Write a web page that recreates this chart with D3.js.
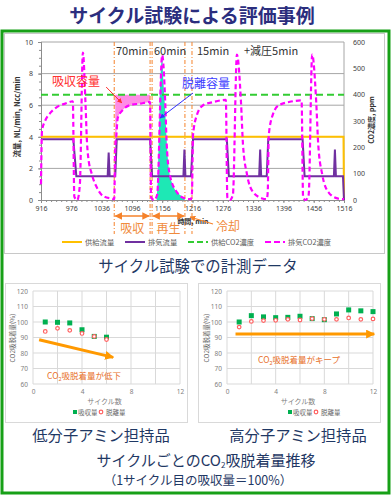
<!DOCTYPE html>
<html>
<head>
<meta charset="utf-8">
<script src="https://cdn.jsdelivr.net/npm/d3@7"></script>
<style>
body { margin: 0; background: #fff; }
svg { display: block; font-family: "Noto Sans CJK JP", "Noto Sans", sans-serif; }
</style>
</head>
<body>
<svg id="chart" width="392" height="497"></svg>
<script>
// ---- top chart data (time in min) ----
var timeTicks = [916, 976, 1036, 1096, 1156, 1216, 1276, 1336, 1396, 1456, 1516];
var flowTicks = [0, 2, 4, 6, 8, 10];
var ppmTicks = [0, 100, 200, 300, 400, 500, 600];

// 供給流量 (NL/min)
var supplyFlow = [[916, 4], [1515, 4], [1516, 0]];
// 排気流量 (NL/min)
var exhaustFlow = [
  [916, 3.85], [980, 3.85], [986, 1.5], [1048, 1.5], [1050, 3.0], [1052, 1.5], [1063, 1.5], [1066, 3.85],
  [1132, 3.85], [1136, 1.5], [1198, 1.5], [1200, 3.2], [1202, 1.5], [1213, 1.5], [1217, 3.85],
  [1284, 3.85], [1288, 1.5], [1348, 1.5], [1350, 3.2], [1352, 1.5], [1363, 1.5], [1366, 3.85],
  [1434, 3.85], [1438, 1.5], [1496, 1.5], [1498, 3.2], [1500, 1.5], [1514, 1.5], [1516, 0]
];
// 供給CO2濃度 (ppm)
var supplyCO2 = [[916, 400], [1516, 400]];
// 排気CO2濃度 (ppm)
var exhaustCO2 = [
  [916, 60], [918, 264], [924, 300], [934, 330], [944, 348], [954, 360], [964, 366], [979, 375],
  [982, 12], [988, 0], [993, 60], [999, 560], [1004, 372], [1007, 222], [1009, 171], [1017, 96],
  [1027, 46], [1039, 15], [1057, 5], [1061, 3],
  [1063, 200], [1065, 240], [1068, 312], [1078, 342], [1092, 360], [1112, 366], [1132, 372],
  [1134, 10], [1140, 0], [1146, 20], [1156, 550], [1162, 372], [1165, 210], [1171, 96],
  [1185, 30], [1201, 6], [1213, 3],
  [1215, 30], [1217, 246], [1225, 324], [1237, 360], [1257, 372], [1282, 380],
  [1285, 10], [1290, 0], [1296, 20], [1304, 552], [1312, 372], [1316, 210], [1324, 96],
  [1336, 30], [1354, 6], [1363, 3],
  [1365, 30], [1367, 246], [1375, 324], [1387, 360], [1407, 372], [1432, 378],
  [1435, 10], [1440, 0], [1446, 20], [1453, 552], [1461, 372], [1465, 210], [1473, 96],
  [1485, 30], [1503, 6], [1516, 3]
];
// 脱離容量 (ppm)
var desorbArea = [
  [1145, 0], [1148, 120], [1151, 372], [1156, 540], [1158, 462], [1162, 336], [1165, 222],
  [1169, 120], [1177, 57], [1187, 27], [1199, 6], [1201, 0]
];
var absorbRange = [1063, 1132];
var phaseLines = [1061, 1132, 1136, 1201, 1215];
var phaseTexts = ["70min", "60min", "15min", "+減圧5min"];
var legendNames = ["供給流量", "排気流量", "供給CO2濃度", "排気CO2濃度"];

// ---- cycle charts data ----
var cycleTicks = [0, 4, 8, 12];
var pctTicks = [60, 70, 80, 90, 100, 110, 120];
var lowCycles = [1, 2, 3, 4, 5, 6];
var lowAbsorb = [100, 99.8, 99.4, 95.0, 90.7, 90.2];
var lowDesorb = [93.9, 95.9, 94.6, 92.6, 90.7, 88.7];
var lowTrend = [[0.5, 88.5], [6.55, 77.2]];
var highCycles = [1, 2, 3, 4, 5, 6, 7, 8, 9, 10, 11, 12];
var highAbsorb = [100, 104.1, 103.3, 102.8, 103.0, 103.7, 102.2, 101.5, 105.2, 107.8, 107.2, 106.7];
var highDesorb = [96.7, 100.4, 100.9, 101.1, 101.7, 101.3, 102.2, 101.7, 101.7, 102.6, 101.7, 102.0];
var highTrend = [[0.7, 92.2], [12.1, 92.2]];

var svg = d3.select("#chart");
var navy = "#1f3864";
var orange = "#f08a3c";

// markers
var defs = svg.append("defs");
function marker(id, color, size) {
  defs.append("marker").attr("id", id).attr("viewBox", "0 0 10 10")
    .attr("refX", 9).attr("refY", 5).attr("markerWidth", size).attr("markerHeight", size)
    .attr("orient", "auto-start-reverse")
    .append("path").attr("d", "M0,0L10,5L0,10z").attr("fill", color);
}
marker("headRed", "#ff3030", 5);
marker("headBlue", "#3030ff", 5);
marker("headOrange", "#f5822a", 5);
marker("headTrend", "#ff9900", 3);

// title
svg.append("text").attr("x", 192).attr("y", 23).attr("text-anchor", "middle")
  .attr("font-size", 19).attr("font-weight", "bold").attr("fill", "#2b2e7e")
  .text("サイクル試験による評価事例");

// green frame
svg.append("rect").attr("x", 2).attr("y", 31).attr("width", 387).attr("height", 462)
  .attr("fill", "none").attr("stroke", "#17a017").attr("stroke-width", 3);

// top panel frame
svg.append("rect").attr("x", 4.5).attr("y", 33.5).attr("width", 380).attr("height", 220)
  .attr("fill", "none").attr("stroke", "#c8c8c8");

var x = d3.scaleLinear().domain([916, 1516]).range([41, 344]);
var yL = d3.scaleLinear().domain([0, 10]).range([200, 42]);
var yR = d3.scaleLinear().domain([0, 600]).range([200, 42]);

var topG = svg.append("g");

// gridlines
topG.selectAll(".grid").data(flowTicks.slice(1)).join("line")
  .attr("x1", 41).attr("x2", 344).attr("y1", d => yL(d)).attr("y2", d => yL(d))
  .attr("stroke", "#a6a6a6").attr("stroke-width", 1);
topG.append("line").attr("x1", 344).attr("x2", 344).attr("y1", 42).attr("y2", 200)
  .attr("stroke", "#a6a6a6");

// pink absorption fill
var absorbPts = exhaustCO2.filter(d => d[0] >= absorbRange[0] && d[0] <= absorbRange[1]);
topG.append("path").datum(absorbPts)
  .attr("d", d3.area().x(d => x(d[0])).y0(yR(400)).y1(d => yR(d[1])).curve(d3.curveMonotoneX))
  .attr("fill", "#ff8ce6");

// teal desorption fill
topG.append("path").datum(desorbArea)
  .attr("d", d3.area().x(d => x(d[0])).y0(yR(0)).y1(d => yR(d[1])).curve(d3.curveMonotoneX))
  .attr("fill", "#1ee8b5");

// phase lines
topG.selectAll(".phase").data(phaseLines).join("line")
  .attr("x1", d => x(d)).attr("x2", d => x(d)).attr("y1", 42).attr("y2", 234)
  .attr("stroke", "#f5822a").attr("stroke-width", 1).attr("stroke-dasharray", "4,2,1,2");

// axes
var axL = topG.append("g").attr("transform", "translate(41,0)")
  .call(d3.axisLeft(yL).tickValues(flowTicks).tickSize(3).tickPadding(5));
var axLm = topG.append("g").attr("transform", "translate(41,0)")
  .call(d3.axisLeft(yL).tickValues(d3.range(0, 10.01, 0.5)).tickSize(2).tickFormat(""));
var axR = topG.append("g").attr("transform", "translate(344,0)")
  .call(d3.axisRight(yR).tickValues(ppmTicks).tickSize(0).tickPadding(9));
var axB = topG.append("g").attr("transform", "translate(0,200)")
  .call(d3.axisBottom(x).tickValues(timeTicks).tickFormat(d3.format("d")).tickSize(3).tickPadding(3));
var axBm = topG.append("g").attr("transform", "translate(0,200)")
  .call(d3.axisBottom(x).tickValues(d3.range(916, 1517, 10)).tickSize(2).tickFormat(""));
[axL, axLm, axR, axB, axBm].forEach(function (a) {
  a.select(".domain").attr("stroke", "#8c8c8c");
  a.selectAll("line").attr("stroke", "#8c8c8c");
  a.selectAll("text").attr("font-size", 7).attr("fill", "#404040")
    .attr("font-family", '"Noto Sans", sans-serif');
});
axR.select(".domain").remove();

// series
var lineL = d3.line().x(d => x(d[0])).y(d => yL(d[1]));
var lineR = d3.line().x(d => x(d[0])).y(d => yR(d[1]));
topG.append("path").datum(supplyFlow).attr("d", lineL)
  .attr("fill", "none").attr("stroke", "#ffc000").attr("stroke-width", 2);
topG.append("path").datum(exhaustFlow).attr("d", lineL)
  .attr("fill", "none").attr("stroke", "#7030a0").attr("stroke-width", 2);
topG.append("path").datum(supplyCO2).attr("d", lineR)
  .attr("fill", "none").attr("stroke", "#33cc33").attr("stroke-width", 2).attr("stroke-dasharray", "7,4");
topG.append("path").datum(exhaustCO2).attr("d", lineR.curve(d3.curveMonotoneX))
  .attr("fill", "none").attr("stroke", "#ff00ff").attr("stroke-width", 2.2).attr("stroke-dasharray", "5,3");

// axis titles
topG.append("text").attr("transform", "translate(20,117) rotate(-90)").attr("text-anchor", "middle")
  .attr("font-size", 7.5).attr("font-weight", "bold").attr("fill", "#333").text("流量, NL/min, Ncc/min");
topG.append("text").attr("transform", "translate(374,120) rotate(-90)").attr("text-anchor", "middle")
  .attr("font-size", 7).attr("font-weight", "bold").attr("fill", "#333").text("CO2濃度, ppm");
topG.append("text").attr("x", 193).attr("y", 224).attr("text-anchor", "middle")
  .attr("font-size", 7).attr("font-weight", "bold").attr("fill", "#333").text("時間, min");

// phase labels at top
var phaseX = [116, 154, 197, 244];
phaseTexts.forEach(function (t, i) {
  topG.append("text").attr("x", phaseX[i]).attr("y", 55).attr("font-size", 11)
    .attr("fill", "#333").text(t);
});

// annotations
topG.append("text").attr("x", 52).attr("y", 86).attr("font-size", 12).attr("fill", "#ff3030").text("吸収容量");
topG.append("line").attr("x1", x(1045)).attr("y1", yL(7.15)).attr("x2", x(1076)).attr("y2", yL(6.14))
  .attr("stroke", "#ff3030").attr("stroke-width", 1).attr("marker-end", "url(#headRed)");
topG.append("text").attr("x", 182).attr("y", 88).attr("font-size", 12).attr("fill", "#3b3bff").text("脱離容量");
topG.append("line").attr("x1", x(1217)).attr("y1", yL(6.77)).attr("x2", x(1152)).attr("y2", yL(5.19))
  .attr("stroke", "#3030ff").attr("stroke-width", 1).attr("marker-end", "url(#headBlue)");

// phase arrows at bottom
[[phaseLines[0], phaseLines[1]], [phaseLines[2], phaseLines[3]]].forEach(function (p) {
  topG.append("line").attr("x1", x(p[0]) + 1).attr("x2", x(p[1]) - 1).attr("y1", 216).attr("y2", 216)
    .attr("stroke", "#f5822a").attr("stroke-width", 1.5)
    .attr("marker-start", "url(#headOrange)").attr("marker-end", "url(#headOrange)");
});
topG.append("line").attr("x1", 213).attr("y1", 224).attr("x2", x(phaseLines[4]) - 2).attr("y2", 217)
  .attr("stroke", "#f5822a").attr("stroke-width", 1.2).attr("marker-end", "url(#headOrange)");
topG.append("text").attr("x", (x(phaseLines[0]) + x(phaseLines[1])) / 2).attr("y", 233)
  .attr("text-anchor", "middle").attr("font-size", 12).attr("fill", orange).text("吸収");
topG.append("text").attr("x", (x(phaseLines[2]) + x(phaseLines[3])) / 2).attr("y", 233)
  .attr("text-anchor", "middle").attr("font-size", 12).attr("fill", orange).text("再生");
topG.append("text").attr("x", 216).attr("y", 231).attr("font-size", 12).attr("fill", orange).text("冷却");

// legend
var legendItems = [
  { x: 62, color: "#ffc000", dash: null },
  { x: 125, color: "#7030a0", dash: null },
  { x: 188, color: "#33cc33", dash: "6,3" },
  { x: 265, color: "#ff00ff", dash: "6,3" }
];
legendItems.forEach(function (it, i) {
  topG.append("line").attr("x1", it.x).attr("x2", it.x + 20).attr("y1", 242).attr("y2", 242)
    .attr("stroke", it.color).attr("stroke-width", 2).attr("stroke-dasharray", it.dash);
  topG.append("text").attr("x", it.x + 23).attr("y", 244.5).attr("font-size", 7.3)
    .attr("fill", "#595959").text(legendNames[i]);
});

svg.append("text").attr("x", 198).attr("y", 272).attr("text-anchor", "middle")
  .attr("font-size", 15.4).attr("fill", navy).text("サイクル試験での計測データ");

// ---- cycle charts ----
function cycleChart(box, x0, x1, cycles, absorb, desorb, trend, noteX, noteY, note, legX) {
  var g = svg.append("g");
  g.append("rect").attr("x", box).attr("y", 283.5).attr("width", 182).attr("height", 139)
    .attr("fill", "none").attr("stroke", "#d9d9d9");
  var cx = d3.scaleLinear().domain([0, 12]).range([x0, x1]);
  var cy = d3.scaleLinear().domain([60, 120]).range([384, 291]);

  g.selectAll(".hg").data(pctTicks).join("line")
    .attr("x1", x0).attr("x2", x1).attr("y1", d => cy(d)).attr("y2", d => cy(d))
    .attr("stroke", "#d9d9d9");
  g.selectAll(".vg").data(d3.range(0, 13, 2)).join("line")
    .attr("x1", d => cx(d)).attr("x2", d => cx(d)).attr("y1", 291).attr("y2", 384)
    .attr("stroke", "#d9d9d9");

  var ay = g.append("g").attr("transform", "translate(" + x0 + ",0)")
    .call(d3.axisLeft(cy).tickValues(pctTicks).tickSize(0).tickPadding(5));
  var ax = g.append("g").attr("transform", "translate(0,384)")
    .call(d3.axisBottom(cx).tickValues(cycleTicks).tickSize(0).tickPadding(5));
  [ay, ax].forEach(function (a) {
    a.select(".domain").remove();
    a.selectAll("text").attr("font-size", 6.5).attr("fill", "#808080")
      .attr("font-family", '"Noto Sans", sans-serif');
  });

  g.append("text").attr("transform", "translate(" + (x0 - 18) + ",338) rotate(-90)")
    .attr("text-anchor", "middle").attr("font-size", 6.5).attr("fill", "#666").text("CO2吸脱着量(%)");
  g.append("text").attr("x", (x0 + x1) / 2 - 2).attr("y", 404).attr("text-anchor", "middle")
    .attr("font-size", 7).attr("fill", "#808080").text("サイクル数");

  g.selectAll(".abs").data(absorb).join("rect")
    .attr("x", (d, i) => cx(cycles[i]) - 2.5).attr("y", d => cy(d) - 2.5)
    .attr("width", 5).attr("height", 5).attr("fill", "#00b050");
  g.selectAll(".des").data(desorb).join("circle")
    .attr("cx", (d, i) => cx(cycles[i])).attr("cy", d => cy(d)).attr("r", 1.8)
    .attr("fill", "#fff").attr("stroke", "#ff6060").attr("stroke-width", 1.2);

  g.append("line").attr("x1", cx(trend[0][0])).attr("y1", cy(trend[0][1]))
    .attr("x2", cx(trend[1][0])).attr("y2", cy(trend[1][1]))
    .attr("stroke", "#ff9900").attr("stroke-width", 3).attr("marker-end", "url(#headTrend)");

  var t = g.append("text").attr("x", noteX).attr("y", noteY).attr("font-size", 8.5).attr("fill", "#e8702a");
  t.append("tspan").text("CO");
  t.append("tspan").attr("font-size", 5.5).attr("dy", 2).text("2");
  t.append("tspan").attr("dy", -2).text(note);

  g.append("rect").attr("x", legX - 2).attr("y", 410).attr("width", 4).attr("height", 4).attr("fill", "#00b050");
  g.append("text").attr("x", legX + 3).attr("y", 414.5).attr("font-size", 6.5).attr("fill", "#666").text("吸収量");
  g.append("circle").attr("cx", legX + 26).attr("cy", 412).attr("r", 1.8)
    .attr("fill", "#fff").attr("stroke", "#ff6060").attr("stroke-width", 1.2);
  g.append("text").attr("x", legX + 31).attr("y", 414.5).attr("font-size", 6.5).attr("fill", "#666").text("脱離量");
}
cycleChart(5.5, 33, 180, lowCycles, lowAbsorb, lowDesorb, lowTrend, 47, 379, "吸脱着量が低下", 75);
cycleChart(198.5, 227, 373, highCycles, highAbsorb, highDesorb, highTrend, 258, 363, "吸脱着量がキープ", 290);

// bottom captions
svg.append("text").attr("x", 101).attr("y", 441).attr("text-anchor", "middle")
  .attr("font-size", 15.3).attr("fill", navy).text("低分子アミン担持品");
svg.append("text").attr("x", 298).attr("y", 441).attr("text-anchor", "middle")
  .attr("font-size", 15.3).attr("fill", navy).text("高分子アミン担持品");
var cap = svg.append("text").attr("x", 206).attr("y", 466).attr("text-anchor", "middle")
  .attr("font-size", 15).attr("fill", navy);
cap.append("tspan").text("サイクルごとのCO");
cap.append("tspan").attr("font-size", 8).attr("dy", 2).text("2");
cap.append("tspan").attr("dy", -2).text("吸脱着量推移");
svg.append("text").attr("x", 198).attr("y", 485).attr("text-anchor", "middle")
  .attr("font-size", 12.5).attr("fill", navy).text("（1サイクル目の吸収量＝100%）");
</script>
</body>
</html>
